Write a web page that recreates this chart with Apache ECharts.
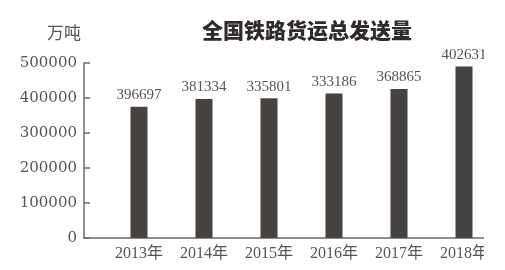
<!DOCTYPE html>
<html>
<head>
<meta charset="utf-8">
<script src="https://cdn.jsdelivr.net/npm/echarts@6/dist/echarts.min.js"></script>
<style>
html,body{margin:0;padding:0;background:#fff;}
#wrap{width:484px;height:270px;overflow:hidden;}
#c{width:505px;height:270px;}
</style>
</head>
<body>
<div id="wrap"><div id="c"></div></div>
<script>
// Categories
var years = ['2013年', '2014年', '2015年', '2016年', '2017年', '2018年'];
// Bar heights as drawn in the picture (万吨)
var barHeights = [375000, 397000, 399000, 413000, 426000, 490000];
// Values printed above the bars
var printedValues = [396697, 381334, 335801, 333186, 368865, 402631];
// Y axis
var yMin = 0, yMax = 500000, yStep = 100000;
var titleText = '全国铁路货运总发送量';
var unitText = '万吨';

var chart = echarts.init(document.getElementById('c'), null, {renderer: 'canvas'});
var axisColor = '#6e6b6a';
var serif = '"Liberation Serif", "Noto Sans CJK SC", serif';
chart.setOption({
  animation: false,
  backgroundColor: '#fff',
  title: [
    {text: titleText, left: 197, top: 15, padding: 5,
     textStyle: {fontFamily: '"Noto Sans CJK SC"', fontWeight: 900, fontSize: 21, color: '#2e2b2a'}},
    {text: unitText, left: 42, top: 19, padding: 5,
     textStyle: {fontFamily: '"Noto Sans CJK SC"', fontWeight: 'normal', fontSize: 17, color: '#555'}}
  ],
  grid: [
    {left: 84, top: 63, height: 175, width: 400, containLabel: false},
    {left: 106.5, top: 63, height: 175, width: 390, containLabel: false}
  ],
  xAxis: [
    {gridIndex: 0, type: 'value', min: 0, max: 1,
     axisLine: {show: true, lineStyle: {color: axisColor, width: 1.5}},
     axisTick: {show: false}, axisLabel: {show: false}, splitLine: {show: false}},
    {gridIndex: 1, type: 'category', data: years,
     axisLine: {show: false}, axisTick: {show: false},
     axisLabel: {margin: 8, fontFamily: serif, fontSize: 16, color: '#555'}}
  ],
  yAxis: [
    {gridIndex: 0, type: 'value', min: yMin, max: yMax, interval: yStep,
     axisLine: {show: true, lineStyle: {color: axisColor, width: 1.5}},
     axisTick: {show: true, inside: true, length: 6, lineStyle: {color: axisColor, width: 1.5}},
     axisLabel: {margin: 7, fontFamily: '"DejaVu Serif", serif', fontSize: 15, color: '#555',
       formatter: function (v) { return String(v); }},
     splitLine: {show: false}},
    {gridIndex: 1, type: 'value', min: yMin, max: yMax, interval: yStep, show: false}
  ],
  series: [{
    type: 'bar', xAxisIndex: 1, yAxisIndex: 1,
    data: barHeights, barWidth: 17,
    itemStyle: {color: '#474341'},
    label: {show: true, position: 'top', distance: 4,
      fontFamily: serif, fontSize: 15, color: '#555',
      formatter: function (p) { return String(printedValues[p.dataIndex]); }}
  }]
});
</script>
</body>
</html>
